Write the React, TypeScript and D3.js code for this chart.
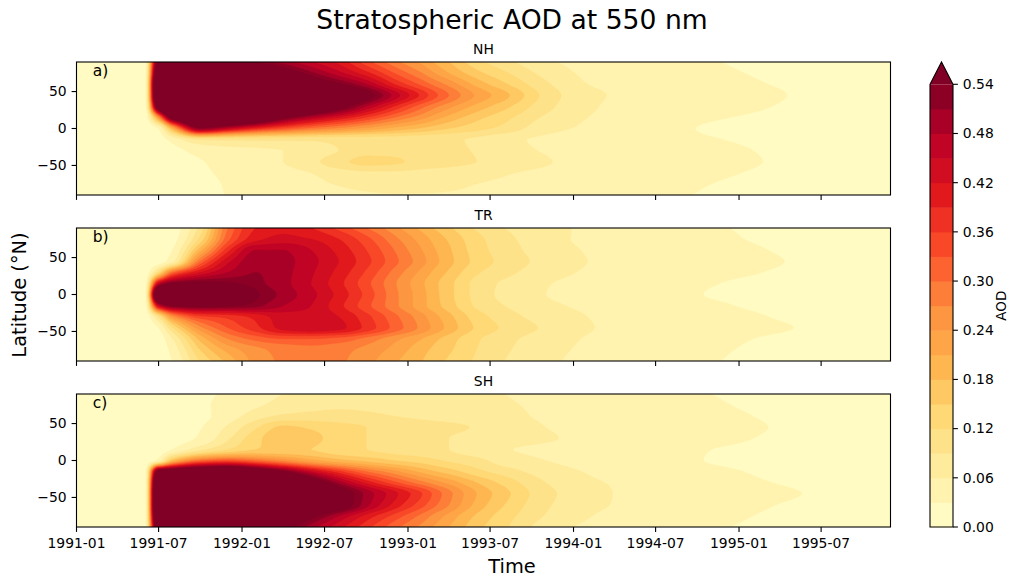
import React, { useMemo } from 'react';
import * as d3 from 'd3';

// months since 1991-01 at which values were read
const MONTHS = [0, 5, 6, 7, 9, 11, 13, 15, 17, 19, 21, 23, 25, 27, 29, 31, 34, 37, 40, 43, 46, 49, 52, 55, 59];
// latitude rows (top to bottom)
const LATS = [90, 75, 60, 45, 30, 15, 0, -15, -30, -45, -60, -75, -90];

const NH_AOD = [
  [0.01,0.01,0.6,0.7,0.72,0.65,0.53,0.49,0.45,0.41,0.34,0.28,0.23,0.18,0.13,0.1,0.065,0.05,0.045,0.037,0.031,0.027,0.024,0.022,0.02],
  [0.01,0.01,0.7,0.8,0.85,0.8,0.7,0.6,0.52,0.46,0.4,0.33,0.27,0.21,0.16,0.125,0.08,0.055,0.048,0.04,0.034,0.029,0.025,0.022,0.02],
  [0.01,0.01,0.8,0.9,0.95,0.9,0.82,0.72,0.62,0.55,0.48,0.39,0.32,0.26,0.2,0.155,0.095,0.06,0.052,0.044,0.038,0.032,0.027,0.023,0.02],
  [0.01,0.01,0.8,0.95,1.0,1.0,0.95,0.87,0.77,0.67,0.57,0.47,0.38,0.3,0.235,0.19,0.11,0.067,0.055,0.048,0.042,0.036,0.029,0.024,0.02],
  [0.01,0.01,0.65,0.85,0.9,0.9,0.85,0.78,0.68,0.58,0.48,0.39,0.31,0.25,0.2,0.16,0.1,0.065,0.052,0.045,0.04,0.033,0.027,0.022,0.018],
  [0.01,0.01,0.25,0.6,0.75,0.75,0.68,0.56,0.48,0.42,0.36,0.3,0.25,0.2,0.16,0.13,0.085,0.06,0.05,0.04,0.032,0.028,0.025,0.022,0.018],
  [0.01,0.01,0.03,0.2,0.52,0.45,0.38,0.33,0.29,0.26,0.23,0.2,0.175,0.15,0.13,0.11,0.07,0.055,0.045,0.035,0.028,0.026,0.025,0.022,0.018],
  [0.01,0.01,0.015,0.04,0.09,0.095,0.095,0.095,0.095,0.1,0.105,0.105,0.1,0.095,0.085,0.068,0.055,0.048,0.042,0.036,0.031,0.028,0.026,0.023,0.019],
  [0.01,0.01,0.01,0.02,0.04,0.05,0.055,0.06,0.07,0.09,0.11,0.11,0.1,0.095,0.088,0.072,0.058,0.052,0.048,0.04,0.034,0.03,0.027,0.024,0.02],
  [0.01,0.01,0.01,0.015,0.028,0.04,0.05,0.06,0.08,0.11,0.13,0.125,0.11,0.1,0.09,0.08,0.062,0.052,0.046,0.04,0.035,0.031,0.027,0.023,0.02],
  [0.01,0.01,0.01,0.012,0.025,0.035,0.042,0.05,0.06,0.075,0.085,0.085,0.08,0.075,0.068,0.062,0.055,0.05,0.045,0.04,0.033,0.029,0.026,0.023,0.02],
  [0.01,0.01,0.01,0.011,0.022,0.032,0.038,0.045,0.052,0.062,0.07,0.072,0.07,0.066,0.06,0.057,0.052,0.047,0.042,0.036,0.03,0.027,0.025,0.022,0.019],
  [0.01,0.01,0.01,0.01,0.02,0.031,0.036,0.04,0.045,0.05,0.055,0.058,0.058,0.057,0.055,0.052,0.047,0.042,0.038,0.033,0.028,0.026,0.024,0.021,0.018],
];

const TR_AOD = [
  [0.01,0.01,0.01,0.015,0.1,0.3,0.39,0.41,0.39,0.35,0.3,0.25,0.2,0.155,0.115,0.09,0.068,0.056,0.046,0.039,0.032,0.028,0.025,0.022,0.019],
  [0.01,0.01,0.01,0.02,0.13,0.32,0.41,0.43,0.42,0.39,0.34,0.28,0.225,0.175,0.13,0.1,0.07,0.055,0.047,0.04,0.034,0.029,0.025,0.022,0.019],
  [0.01,0.01,0.012,0.03,0.2,0.38,0.48,0.48,0.45,0.41,0.36,0.3,0.24,0.185,0.135,0.105,0.075,0.058,0.05,0.043,0.037,0.032,0.027,0.023,0.019],
  [0.01,0.01,0.015,0.05,0.3,0.44,0.5,0.49,0.46,0.42,0.37,0.31,0.25,0.19,0.14,0.11,0.08,0.06,0.052,0.046,0.04,0.034,0.029,0.025,0.02],
  [0.01,0.01,0.12,0.3,0.42,0.48,0.51,0.49,0.455,0.41,0.355,0.29,0.23,0.175,0.125,0.1,0.072,0.057,0.05,0.043,0.036,0.031,0.027,0.023,0.019],
  [0.01,0.01,0.45,0.55,0.57,0.55,0.52,0.49,0.45,0.4,0.34,0.275,0.215,0.16,0.11,0.085,0.062,0.052,0.045,0.038,0.031,0.027,0.025,0.022,0.019],
  [0.01,0.01,0.75,0.85,0.85,0.7,0.55,0.5,0.46,0.41,0.35,0.28,0.22,0.16,0.11,0.082,0.06,0.051,0.043,0.036,0.029,0.026,0.024,0.021,0.018],
  [0.01,0.01,0.45,0.55,0.57,0.55,0.52,0.48,0.45,0.4,0.34,0.28,0.22,0.165,0.115,0.09,0.066,0.055,0.047,0.04,0.033,0.028,0.025,0.022,0.019],
  [0.01,0.01,0.1,0.25,0.35,0.37,0.4,0.435,0.44,0.42,0.37,0.31,0.25,0.19,0.135,0.105,0.076,0.06,0.052,0.045,0.038,0.032,0.027,0.023,0.019],
  [0.01,0.01,0.03,0.12,0.26,0.33,0.38,0.43,0.445,0.43,0.38,0.32,0.26,0.2,0.145,0.115,0.085,0.062,0.054,0.047,0.041,0.035,0.03,0.025,0.021],
  [0.01,0.01,0.015,0.06,0.19,0.27,0.31,0.33,0.33,0.32,0.29,0.25,0.21,0.165,0.125,0.1,0.075,0.058,0.05,0.043,0.036,0.03,0.026,0.023,0.019],
  [0.01,0.01,0.012,0.04,0.15,0.22,0.26,0.28,0.29,0.28,0.26,0.23,0.19,0.155,0.12,0.095,0.07,0.055,0.047,0.04,0.033,0.028,0.025,0.022,0.018],
  [0.01,0.01,0.01,0.03,0.12,0.19,0.25,0.275,0.285,0.275,0.25,0.215,0.18,0.145,0.115,0.09,0.066,0.052,0.044,0.037,0.031,0.027,0.024,0.021,0.018],
];

const SH_AOD = [
  [0.01,0.01,0.01,0.01,0.022,0.035,0.045,0.06,0.07,0.075,0.077,0.075,0.072,0.068,0.064,0.06,0.053,0.046,0.04,0.035,0.03,0.027,0.024,0.021,0.018],
  [0.01,0.01,0.01,0.01,0.024,0.04,0.055,0.07,0.08,0.085,0.085,0.082,0.078,0.073,0.068,0.063,0.055,0.048,0.042,0.037,0.032,0.028,0.025,0.022,0.019],
  [0.01,0.01,0.01,0.01,0.022,0.045,0.075,0.095,0.1,0.1,0.095,0.09,0.085,0.08,0.075,0.068,0.056,0.05,0.045,0.04,0.035,0.03,0.026,0.023,0.019],
  [0.01,0.01,0.01,0.012,0.028,0.065,0.115,0.155,0.145,0.13,0.12,0.11,0.1,0.095,0.088,0.078,0.06,0.052,0.046,0.041,0.037,0.032,0.027,0.023,0.019],
  [0.01,0.01,0.01,0.015,0.035,0.085,0.14,0.17,0.16,0.135,0.12,0.11,0.1,0.09,0.08,0.073,0.063,0.054,0.047,0.04,0.035,0.03,0.026,0.023,0.019],
  [0.01,0.01,0.012,0.03,0.08,0.12,0.15,0.155,0.15,0.13,0.12,0.11,0.1,0.09,0.072,0.062,0.054,0.048,0.043,0.036,0.03,0.027,0.024,0.021,0.018],
  [0.01,0.01,0.04,0.18,0.3,0.33,0.3,0.26,0.22,0.19,0.17,0.15,0.135,0.115,0.1,0.075,0.06,0.05,0.043,0.036,0.029,0.026,0.024,0.021,0.018],
  [0.01,0.01,0.6,0.65,0.7,0.72,0.65,0.55,0.45,0.37,0.3,0.25,0.2,0.165,0.13,0.105,0.075,0.058,0.048,0.04,0.034,0.029,0.026,0.023,0.019],
  [0.01,0.01,0.8,0.95,1.0,1.0,0.9,0.75,0.62,0.5,0.41,0.34,0.28,0.23,0.18,0.14,0.09,0.065,0.055,0.045,0.038,0.032,0.028,0.024,0.02],
  [0.01,0.01,0.85,1.0,1.05,1.05,1.0,0.9,0.76,0.6,0.5,0.43,0.36,0.28,0.21,0.16,0.1,0.07,0.056,0.05,0.042,0.036,0.031,0.026,0.021],
  [0.01,0.01,0.85,1.0,1.05,1.05,1.0,0.88,0.75,0.6,0.49,0.41,0.34,0.27,0.2,0.15,0.095,0.068,0.055,0.046,0.039,0.033,0.028,0.024,0.02],
  [0.01,0.01,0.8,0.95,1.0,0.95,0.83,0.69,0.57,0.48,0.41,0.35,0.29,0.23,0.175,0.135,0.088,0.062,0.05,0.042,0.035,0.03,0.026,0.023,0.019],
  [0.01,0.01,0.7,0.85,0.88,0.82,0.7,0.57,0.49,0.43,0.37,0.31,0.26,0.21,0.16,0.125,0.075,0.055,0.047,0.039,0.032,0.028,0.025,0.022,0.019],
];

const LEVELS = Array.from({ length: 19 }, (_, i) => +(i * 0.03).toFixed(2));
const CBAR_TICKS = Array.from({ length: 10 }, (_, i) => +(i * 0.06).toFixed(2));
const LAT_TICKS = [-50, 0, 50];
const PANEL_NAMES = ['NH', 'TR', 'SH'];
const PANEL_LETTERS = ['a)', 'b)', 'c)'];
const PANEL_DATA = [NH_AOD, TR_AOD, SH_AOD];

const YLORRD = ['#ffffcc', '#ffeda0', '#fed976', '#feb24c', '#fd8d3c', '#fc4e2a', '#e31a1c', '#bd0026', '#800026'];
function cmap(t: number): string {
  const idx = Math.max(0, Math.min(255, Math.floor(t * 256)));
  const u = (idx / 255) * 8;
  const k = Math.min(7, Math.floor(u));
  return d3.interpolateRgb(YLORRD[k], YLORRD[k + 1])(u - k);
}
const NB = LEVELS.length - 1;
const BAND_COLORS = d3.range(NB).map((i) => cmap((i + 0.5) / NB));
const OVER_COLOR = cmap(1);
const LAYER_COLORS = [...BAND_COLORS, OVER_COLOR];

function monotone(xs: number[], ys: number[]) {
  const n = xs.length;
  const h: number[] = [], s: number[] = [];
  for (let i = 0; i < n - 1; i++) { h[i] = xs[i + 1] - xs[i]; s[i] = (ys[i + 1] - ys[i]) / h[i]; }
  const m: number[] = new Array(n);
  m[0] = s[0]; m[n - 1] = s[n - 2];
  for (let i = 1; i < n - 1; i++) {
    if (s[i - 1] * s[i] <= 0) m[i] = 0;
    else {
      const w1 = 2 * h[i] + h[i - 1], w2 = h[i] + 2 * h[i - 1];
      m[i] = (w1 + w2) / (w1 / s[i - 1] + w2 / s[i]);
    }
  }
  return (x: number) => {
    let i = d3.bisectRight(xs, x) - 1;
    i = Math.max(0, Math.min(n - 2, i));
    const t = (x - xs[i]) / h[i];
    const t2 = t * t, t3 = t2 * t;
    return (2 * t3 - 3 * t2 + 1) * ys[i] + (t3 - 2 * t2 + t) * h[i] * m[i] +
      (-2 * t3 + 3 * t2) * ys[i + 1] + (t3 - t2) * h[i] * m[i + 1];
  };
}

const NX = 355, NY = 121;
const DM = (MONTHS[MONTHS.length - 1] - MONTHS[0]) / (NX - 1);
const DL = 180 / (NY - 1);

function buildGrid(data: number[][]) {
  const rows = data.map((row) => {
    const f = monotone(MONTHS, row);
    return d3.range(NX).map((i) => f(i * DM));
  });
  const latsAsc = LATS.slice().reverse();
  const values = new Float64Array(NX * NY);
  for (let i = 0; i < NX; i++) {
    const col = rows.map((r) => r[i]).reverse();
    const f = monotone(latsAsc, col);
    for (let j = 0; j < NY; j++) {
      const lat = 90 - j * DL;
      values[j * NX + i] = Math.max(0, f(lat));
    }
  }
  return values;
}

const W = 1009, H = 578;
const AX_L = 76.5, AX_R = 890.5;
const PANEL_TOPS = [62, 228, 394];
const PANEL_H = 133;
const CB_L = 930, CB_R = 953, CB_TOP = 84.3, CB_BOT = 527, CB_TIP = 62;
const FONT = 'DejaVu Sans, sans-serif';

export default function App() {
  const xScale = d3.scaleUtc()
    .domain([new Date(Date.UTC(1991, 0, 1)), new Date(Date.UTC(1995, 11, 1))])
    .range([AX_L, AX_R]);
  const monthToX = (m: number) => {
    const k = Math.floor(m);
    const f = m - k;
    const d0 = Date.UTC(1991, k, 1), d1 = Date.UTC(1991, k + 1, 1);
    return xScale(new Date(d0 + f * (d1 - d0)));
  };
  const xTicks = d3.utcMonth.every(6)!.range(new Date(Date.UTC(1991, 0, 1)), new Date(Date.UTC(1995, 11, 2)));
  const fmt = d3.utcFormat('%Y-%m');

  const panels = useMemo(() => PANEL_DATA.map((data, p) => {
    const top = PANEL_TOPS[p];
    const yScale = d3.scaleLinear().domain([-90, 90]).range([top + PANEL_H, top]);
    const values = buildGrid(data);
    const contours = d3.contours().size([NX, NY]).thresholds(LEVELS)(values as any);
    const proj = d3.geoTransform({
      point(x: number, y: number) {
        (this as any).stream.point(monthToX((x - 0.5) * DM), yScale(90 - (y - 0.5) * DL));
      },
    });
    const path = d3.geoPath(proj);
    return { top, yScale, paths: contours.map((c, i) => ({ d: path(c as any) || '', fill: LAYER_COLORS[i] })) };
  }), []);

  const cbScale = d3.scaleLinear().domain([0, 0.54]).range([CB_BOT, CB_TOP]);
  const latLabel = (v: number) => (v < 0 ? '\u2212' + Math.abs(v) : String(v));

  return (
    <svg width={W} height={H} style={{ position: 'absolute', left: 0, top: 0 }} fontFamily={FONT}>
      <rect x={0} y={0} width={W} height={H} fill="#fff" />
      <text x={512} y={29} textAnchor="middle" fontSize={26.6}>Stratospheric AOD at 550 nm</text>
      {panels.map((pn, p) => (
        <g key={p}>
          <defs>
            <clipPath id={`clip${p}`}>
              <rect x={AX_L} y={pn.top} width={AX_R - AX_L} height={PANEL_H} />
            </clipPath>
          </defs>
          <g clipPath={`url(#clip${p})`}>
            {pn.paths.map((c, i) => (
              <path key={i} d={c.d} fill={c.fill} stroke={c.fill} strokeWidth={0.3} />
            ))}
          </g>
          <rect x={AX_L} y={pn.top} width={AX_R - AX_L} height={PANEL_H} fill="none" stroke="#000" strokeWidth={1.1} />
          {LAT_TICKS.map((v) => (
            <g key={v}>
              <line x1={AX_L - 4.9} x2={AX_L} y1={pn.yScale(v)} y2={pn.yScale(v)} stroke="#000" strokeWidth={1.1} />
              <text x={AX_L - 9.8} y={pn.yScale(v)} dy="0.35em" textAnchor="end" fontSize={13.9}>{latLabel(v)}</text>
            </g>
          ))}
          {xTicks.map((d, i) => (
            <line key={i} x1={xScale(d)} x2={xScale(d)} y1={pn.top + PANEL_H} y2={pn.top + PANEL_H + 4.9} stroke="#000" strokeWidth={1.1} />
          ))}
          <text x={(AX_L + AX_R) / 2} y={pn.top - 8.3} textAnchor="middle" fontSize={13.9}>{PANEL_NAMES[p]}</text>
          <text x={AX_L + 0.02 * (AX_R - AX_L)} y={pn.top + 0.1 * PANEL_H + 1} fontSize={15.5}>{PANEL_LETTERS[p]}</text>
        </g>
      ))}
      {xTicks.map((d, i) => (
        <text key={i} x={xScale(d)} y={547.5} textAnchor="middle" fontSize={13.9}>{fmt(d)}</text>
      ))}
      <text x={512} y={573} textAnchor="middle" fontSize={19.4}>Time</text>
      <text transform={`translate(26,295) rotate(-90)`} textAnchor="middle" fontSize={19.4}>Latitude (°N)</text>
      {/* colorbar */}
      <g>
        {BAND_COLORS.map((c, i) => (
          <rect key={i} x={CB_L} y={cbScale(LEVELS[i + 1])} width={CB_R - CB_L} height={cbScale(LEVELS[i]) - cbScale(LEVELS[i + 1]) + 0.5} fill={c} />
        ))}
        <path d={`M${CB_L},${CB_TOP}L${(CB_L + CB_R) / 2},${CB_TIP}L${CB_R},${CB_TOP}Z`} fill={OVER_COLOR} />
        <path d={`M${CB_L},${CB_BOT}L${CB_L},${CB_TOP}L${(CB_L + CB_R) / 2},${CB_TIP}L${CB_R},${CB_TOP}L${CB_R},${CB_BOT}Z`} fill="none" stroke="#000" strokeWidth={1.1} />
        {CBAR_TICKS.map((v) => (
          <g key={v}>
            <line x1={CB_R} x2={CB_R + 4.9} y1={cbScale(v)} y2={cbScale(v)} stroke="#000" strokeWidth={1.1} />
            <text x={CB_R + 9.8} y={cbScale(v)} dy="0.35em" fontSize={13.9}>{v.toFixed(2)}</text>
          </g>
        ))}
        <text transform={`translate(1001,${(CB_TOP + CB_BOT) / 2}) rotate(-90)`} textAnchor="middle" dy="0.35em" fontSize={13.5}>AOD</text>
      </g>
    </svg>
  );
}
